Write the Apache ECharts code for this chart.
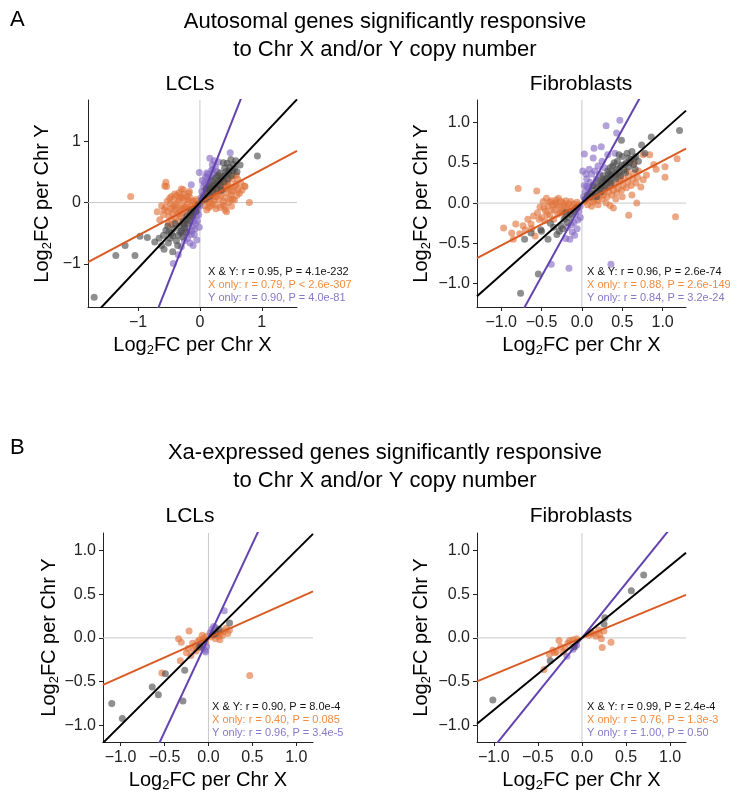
<!DOCTYPE html>
<html>
<head>
<meta charset="utf-8">
<script src="https://cdn.jsdelivr.net/npm/echarts@6/dist/echarts.min.js"></script>
<style>
  html, body { margin: 0; padding: 0; background: #fff; }
  #chart { width: 749px; height: 793px; }
</style>
</head>
<body>
<div id="chart"></div>
<script>
// ---------- Panel A, LCLs: autosomal genes (log2 fold change per Chr X, per Chr Y) ----------
const aLclXOnly = [
  [-1.12,0.10],[-0.55,0.33],[-0.54,0.26],[-0.57,0.27],[-0.30,0.22],[-0.27,0.21],[-0.18,0.15],[-0.31,0.10],
  [-0.46,0.10],[-0.69,-0.15],[-0.59,-0.20],[-0.65,-0.28],[-0.51,-0.34],[-0.62,-0.05],[-0.48,-0.02],[-0.42,0.05],
  [-0.38,-0.08],[-0.35,0.02],[-0.33,-0.15],[-0.29,-0.05],[-0.26,-0.12],[-0.24,0.04],[-0.22,-0.20],[-0.20,-0.02],
  [-0.18,-0.10],[-0.16,0.08],[-0.14,-0.06],[-0.12,0.02],[-0.10,-0.14],[-0.08,-0.03],[-0.06,0.05],[-0.05,-0.09],
  [-0.44,-0.18],[-0.40,-0.25],[-0.36,-0.30],[-0.47,-0.10],[-0.52,-0.14],[-0.56,-0.08],[-0.41,0.14],[-0.37,0.12],
  [-0.28,0.08],[-0.23,-0.28],[-0.30,-0.24],[-0.45,-0.36],[-0.34,0.16],[-0.21,0.10],[-0.11,-0.22],[-0.15,-0.16],
  [-0.39,-0.04],[-0.27,-0.34],[-0.53,0.02],[-0.17,0.18],[-0.03,-0.02],[-0.32,-0.19],[-0.25,-0.07],[-0.43,-0.06],
  [-0.50,-0.22],[-0.46,-0.28],[-0.41,-0.12],[-0.36,-0.18],[-0.33,0.06],[-0.30,-0.10],[-0.26,0.14],[-0.23,-0.08],
  [-0.19,0.04],[-0.14,-0.20],[-0.09,0.02],[-0.07,-0.12],[-0.58,-0.12],[-0.49,0.07],
  [0.59,0.45],[0.73,0.26],[0.72,0.27],[0.80,0.00],[0.64,0.15],[0.43,-0.15],[0.05,0.02],[0.08,-0.05],
  [0.10,0.10],[0.12,0.03],[0.14,-0.08],[0.16,0.16],[0.18,0.06],[0.20,-0.02],[0.22,0.22],[0.24,0.10],
  [0.26,-0.10],[0.28,0.18],[0.30,0.05],[0.32,0.28],[0.34,0.12],[0.36,-0.04],[0.38,0.22],[0.40,0.08],
  [0.42,0.34],[0.44,0.16],[0.46,0.00],[0.48,0.26],[0.50,0.12],[0.52,0.38],[0.54,0.20],[0.56,0.04],
  [0.58,0.30],[0.60,0.12],[0.62,0.22],[0.35,0.35],[0.27,0.32],[0.19,0.27],[0.13,0.22],[0.09,0.15],
  [0.25,-0.04],[0.33,-0.08],[0.41,-0.12],[0.47,0.40],[0.55,0.44],[0.37,0.42],[0.29,0.24],[0.21,0.12],
  [0.15,0.00],[0.11,-0.12],[0.31,0.16],[0.39,0.30],[0.45,0.22],[0.53,0.06],[0.66,0.32],[0.51,-0.06],
  [0.07,0.08],[0.17,-0.06],[0.23,0.04],[0.27,0.10],[0.34,0.20],[0.38,0.02],[0.43,0.26],[0.49,0.06],
  [0.52,0.18],[0.57,0.26],[0.45,0.30],[0.30,0.28],[0.20,0.20],[0.40,-0.06],[0.61,0.38],[0.68,0.20]
];
const aLclYOnly = [
  [0.16,0.72],[0.49,0.81],[-0.01,0.49],[-0.14,0.29],[0.19,0.53],[0.25,0.58],[0.22,0.46],[0.12,0.40],
  [0.10,0.30],[0.08,0.20],[0.05,0.12],[0.14,0.34],[0.18,0.42],[0.06,0.26],[0.03,0.18],[0.20,0.62],
  [0.28,0.50],[0.11,0.48],[0.15,0.22],[0.04,0.36],[0.02,0.08],[0.09,0.42],[0.23,0.68],[0.30,0.66],
  [0.07,0.32],[0.13,0.46],[0.17,0.36],[0.21,0.54],
  [-0.22,-0.28],[-0.08,-0.43],[-0.05,-0.61],[-0.43,-0.99],[-0.16,-0.66],[-0.12,-0.38],[-0.06,-0.22],[-0.03,-0.12],
  [-0.10,-0.30],[-0.18,-0.48],[-0.20,-0.58],[-0.25,-0.62],[-0.14,-0.52],[-0.04,-0.30],[-0.02,-0.20],[-0.30,-0.72],
  [-0.08,-0.16],[-0.24,-0.42],[-0.28,-0.50],[-0.11,-0.70],[-0.35,-0.85],[0.00,-0.05],[-0.01,-0.40],
  [-0.07,-0.34],[-0.13,-0.46],[-0.09,-0.52]
];
const aLclBoth = [
  [-1.71,-1.54],[-1.36,-0.86],[-1.21,-0.70],[-1.05,-0.86],[-0.97,-0.55],[-0.85,-0.57],[-0.73,-0.64],[-0.59,-0.53],
  [-0.44,-0.80],[-0.51,-0.66],[-0.35,-0.53],[-0.62,-0.70],[-0.55,-0.45],[-0.48,-0.58],[-0.42,-0.42],[-0.38,-0.62],
  [-0.33,-0.38],[-0.30,-0.46],[-0.27,-0.30],[-0.24,-0.40],[-0.21,-0.22],[-0.18,-0.30],[-0.15,-0.16],[-0.12,-0.22],
  [-0.09,-0.10],[-0.06,-0.14],[-0.03,-0.04],[-0.46,-0.50],[-0.40,-0.34],[-0.28,-0.56],[-0.52,-0.38],[-0.36,-0.70],
  [-0.22,-0.48],[-0.66,-0.58],[-0.58,-0.76],[-0.32,-0.48],[-0.26,-0.36],[-0.20,-0.34],[-0.16,-0.24],[-0.11,-0.16],
  [-0.44,-0.54],[-0.50,-0.48],
  [0.93,0.76],[0.56,0.55],[0.38,0.65],[0.65,0.61],[0.46,0.48],
  [0.03,0.04],[0.06,0.10],[0.09,0.06],[0.12,0.16],[0.15,0.10],[0.18,0.24],[0.21,0.18],[0.24,0.30],
  [0.27,0.22],[0.30,0.36],[0.33,0.28],[0.36,0.42],[0.39,0.34],[0.42,0.50],[0.45,0.38],[0.48,0.58],
  [0.51,0.44],[0.54,0.62],[0.20,0.36],[0.26,0.40],[0.32,0.48],[0.14,0.26],[0.60,0.50],[0.58,0.68],
  [0.40,0.56],[0.10,0.22],[0.35,0.20],[0.44,0.64],[0.50,0.70],[0.22,0.26],[0.28,0.30],[0.34,0.38],
  [0.16,0.20],[0.41,0.44],[0.47,0.52],[0.53,0.52],[0.29,0.44]
];

// ---------- Panel A, Fibroblasts ----------
const aFibXOnly = [
  [-0.79,0.18],[-0.56,0.15],[-0.97,-0.31],[-0.87,-0.37],[-0.82,-0.26],[-0.73,-0.28],[-0.67,-0.20],[-0.85,-0.45],
  [-0.58,-0.41],[-0.38,0.03],[-0.52,-0.05],[-0.48,0.02],[-0.45,-0.10],[-0.42,-0.04],[-0.40,-0.15],[-0.36,-0.02],
  [-0.34,-0.09],[-0.32,0.04],[-0.30,-0.14],[-0.28,-0.05],[-0.26,0.02],[-0.24,-0.11],[-0.22,-0.03],[-0.20,0.03],
  [-0.18,-0.08],[-0.16,-0.01],[-0.14,0.02],[-0.12,-0.05],[-0.10,-0.01],[-0.08,-0.06],[-0.06,0.01],[-0.04,-0.02],
  [-0.50,-0.18],[-0.46,-0.22],[-0.55,-0.12],[-0.60,-0.16],[-0.63,-0.26],[-0.44,0.06],[-0.29,0.06],[-0.21,-0.15],
  [-0.35,-0.20],[-0.70,-0.33],[-0.77,-0.38],[-0.62,-0.32],[-0.40,0.01],[-0.25,-0.08],
  [-0.47,-0.06],[-0.43,-0.14],[-0.37,-0.08],[-0.31,-0.02],[-0.27,-0.12],[-0.23,0.00],[-0.19,-0.05],[-0.15,-0.10],
  [-0.33,0.00],[-0.53,-0.20],
  [0.84,0.60],[1.03,0.45],[1.03,0.32],[1.16,-0.17],[0.68,0.00],[0.58,-0.15],[0.39,-0.06],[0.76,0.29],
  [1.18,0.55],[0.89,0.48],[0.76,0.60],[0.04,0.02],[0.07,-0.02],[0.10,0.06],[0.13,0.01],[0.16,0.09],
  [0.19,0.03],[0.22,0.12],[0.25,0.05],[0.28,0.15],[0.31,0.08],[0.34,0.19],[0.37,0.10],[0.40,0.22],
  [0.43,0.13],[0.46,0.26],[0.49,0.16],[0.52,0.30],[0.55,0.19],[0.58,0.33],[0.61,0.22],[0.64,0.37],
  [0.67,0.25],[0.70,0.40],[0.73,0.20],[0.12,-0.04],[0.20,-0.02],[0.30,0.00],[0.42,0.05],[0.50,0.08],
  [0.56,0.40],[0.62,0.10],[0.80,0.35],[0.35,-0.03],[0.46,0.35],[0.25,0.22],[0.92,0.42],[0.65,0.50],
  [0.15,0.04],[0.21,0.08],[0.27,0.10],[0.33,0.14],[0.39,0.16],[0.45,0.18],[0.51,0.22],[0.57,0.26],
  [0.63,0.30],[0.69,0.32],[0.48,0.28],[0.36,0.24]
];
const aFibYOnly = [
  [0.47,1.03],[0.30,0.96],[0.03,0.61],[0.15,0.68],[0.14,0.56],[0.43,0.87],[0.41,0.62],[0.06,0.21],
  [0.36,-0.76],[-0.16,-0.81],[-0.38,-0.76],[-0.15,-0.45],[-0.13,-0.27],[-0.05,-0.21],[0.02,0.08],[0.04,0.14],
  [0.06,0.30],[0.08,0.18],[0.10,0.26],[0.12,0.36],[0.14,0.22],[0.16,0.40],[0.18,0.30],[0.20,0.46],
  [0.22,0.36],[0.09,0.42],[0.05,0.36],[0.25,0.52],[0.28,0.44],[0.11,0.12],[0.03,0.22],[0.32,0.60],
  [0.24,0.70],[-0.02,-0.04],[-0.04,-0.10],[-0.08,-0.14],[-0.10,-0.24],[-0.06,-0.32],[-0.12,-0.36],[-0.18,-0.30],
  [-0.09,-0.40],[-0.20,-0.44],[-0.02,-0.18],[0.01,0.40]
];
const aFibBoth = [
  [1.21,0.90],[0.86,0.82],[0.74,0.72],[0.49,0.78],[-0.76,-1.12],[-0.54,-0.88],[-0.71,-0.45],[-0.63,-0.37],
  [-0.50,-0.35],[-0.42,-0.45],[-0.31,-0.39],[-0.51,-0.33],[-0.26,-0.28],[-0.22,-0.20],[-0.18,-0.24],[-0.14,-0.14],
  [-0.10,-0.10],[-0.06,-0.06],[-0.35,-0.30],[-0.28,-0.35],[-0.20,-0.12],[-0.39,-0.25],[-0.24,-0.32],[-0.16,-0.18],
  [0.04,0.05],[0.07,0.10],[0.10,0.08],[0.13,0.15],[0.16,0.12],[0.19,0.20],[0.22,0.17],[0.25,0.26],
  [0.28,0.22],[0.31,0.31],[0.34,0.27],[0.37,0.36],[0.40,0.32],[0.43,0.42],[0.46,0.37],[0.49,0.47],
  [0.52,0.41],[0.55,0.50],[0.58,0.45],[0.61,0.54],[0.64,0.48],[0.67,0.58],[0.70,0.52],[0.20,0.28],
  [0.26,0.34],[0.32,0.40],[0.38,0.46],[0.44,0.52],[0.50,0.58],[0.56,0.62],[0.30,0.20],[0.36,0.25],
  [0.42,0.30],[0.48,0.34],[0.54,0.38],[0.14,0.22],[0.18,0.08],[0.62,0.64],[0.78,0.62],[0.46,0.60],
  [0.40,0.50],[0.35,0.44],[0.58,0.56],[0.66,0.42],[0.24,0.14],[0.23,0.22],[0.29,0.28],[0.35,0.34],
  [0.41,0.38],[0.47,0.44],[0.53,0.48],[0.59,0.50],[0.65,0.56],[0.33,0.36],[0.27,0.30]
];

// ---------- Panel B, LCLs: Xa-expressed genes ----------
const bLclXOnly = [
  [-0.22,0.08],[-0.34,-0.01],[-0.31,-0.05],[-0.23,-0.12],[-0.32,-0.26],[-0.53,-0.40],[0.47,-0.43],[0.20,0.11],
  [0.22,0.05],[-0.18,-0.06],[-0.15,-0.09],[-0.12,-0.04],[-0.10,-0.02],[-0.08,-0.07],[-0.06,-0.03],[-0.05,0.00],
  [-0.03,-0.05],[-0.14,-0.15],[-0.20,-0.20],[-0.17,-0.13],[0.03,0.01],[0.06,0.03],[0.08,-0.01],[0.10,0.04],
  [0.12,0.02],[0.14,0.06],[0.16,0.03],[0.18,0.08],[0.09,0.07],[-0.07,0.03],[-0.25,-0.17],[-0.11,-0.11],
  [0.13,-0.02],[0.24,0.09],[-0.02,0.02]
];
const bLclYOnly = [
  [0.18,0.31],[0.06,0.13],[-0.03,-0.16],[-0.08,-0.08],[0.04,0.10],[-0.02,-0.10],[-0.04,-0.14],[0.02,0.06],
  [0.08,0.12],[-0.06,-0.12]
];
const bLclBoth = [
  [-1.10,-0.75],[-0.98,-0.92],[-0.64,-0.56],[-0.57,-0.65],[-0.49,-0.41],[-0.29,-0.72],[-0.27,-0.37],[0.24,0.17],
  [-0.10,-0.10],[0.05,0.04],[0.12,0.10],[0.08,0.05]
];

// ---------- Panel B, Fibroblasts ----------
const bFibXOnly = [
  [-0.26,-0.03],[-0.14,-0.03],[-0.10,-0.02],[-0.37,-0.19],[-0.29,-0.16],[-0.19,-0.12],[-0.43,-0.36],[0.22,-0.01],
  [0.23,-0.11],[0.33,-0.05],[0.13,0.05],[0.19,0.09],[0.25,0.08],[-0.31,-0.17],[-0.21,-0.16],[-0.24,-0.10],
  [-0.16,-0.06],[-0.06,-0.01],[0.16,0.02],[0.08,0.03],[0.10,0.06],[-0.33,-0.14],[0.20,0.04]
];
const bFibYOnly = [[-0.17,-0.21],[-0.08,-0.10],[-0.06,-0.08],[-0.10,-0.13]];
const bFibBoth = [
  [-1.01,-0.71],[0.70,0.72],[0.56,0.54],[0.26,0.23],[0.25,0.16],[-0.36,-0.26],[-0.09,-0.10]
];

// Fitted slopes through the origin: [X & Y, X only, Y only]
const aLclSlopes = [1.07, 0.535, 2.55];
const aFibSlopes = [0.89, 0.525, 1.82];
const bLclSlopes = [1.00, 0.447, 2.15];
const bFibSlopes = [0.825, 0.417, 1.25];

// Correlation statistics
const aLclStats = ['X & Y: r = 0.95, P = 4.1e-232', 'X only: r = 0.79, P < 2.6e-307', 'Y only: r = 0.90, P = 4.0e-81'];
const aFibStats = ['X & Y: r = 0.96, P = 2.6e-74', 'X only: r = 0.88, P = 2.6e-149', 'Y only: r = 0.84, P = 3.2e-24'];
const bLclStats = ['X & Y: r = 0.90, P = 8.0e-4', 'X only: r = 0.40, P = 0.085', 'Y only: r = 0.96, P = 3.4e-5'];
const bFibStats = ['X & Y: r = 0.99, P = 2.4e-4', 'X only: r = 0.76, P = 1.3e-3', 'Y only: r = 1.00, P = 0.50'];

// Axis limits and tick values
const aLclXRange = [-1.81, 1.57];
const aLclYRange = [-1.70, 1.67];
const aFibXRange = [-1.30, 1.29];
const aFibYRange = [-1.29, 1.28];
const bLclXRange = [-1.20, 1.19];
const bLclYRange = [-1.19, 1.20];
const bFibXRange = [-1.19, 1.18];
const bFibYRange = [-1.19, 1.20];
const unitTicks = [-1, 0, 1];
const halfTicks = [-1, -0.5, 0, 0.5, 1];

// Headings
const sectionLetters = ['A', 'B'];
const sectionTitles = [
  ['Autosomal genes significantly responsive', 'to Chr X and/or Y copy number'],
  ['Xa-expressed genes significantly responsive', 'to Chr X and/or Y copy number']
];
const cellTypes = ['LCLs', 'Fibroblasts'];

const FONT = '"Liberation Sans", Arial, Helvetica, sans-serif';
const COL_X = '#E0733A';
const COL_Y = '#8467C4';
const COL_XY = '#4a4a4a';
const LINE_X = '#D95A22';
const LINE_Y = '#6443AE';
const TXT_X = '#F08C40';
const TXT_Y = '#8878C8';

const panels = [
  { grid: { left: 88, top: 100, width: 209, height: 207 }, xr: aLclXRange, yr: aLclYRange, ticks: unitTicks, dec: 0,
    xo: aLclXOnly, yo: aLclYOnly, xy: aLclBoth, slopes: aLclSlopes, stats: aLclStats, statPos: [208, 272], yGap: 34 },
  { grid: { left: 477, top: 100, width: 209, height: 207 }, xr: aFibXRange, yr: aFibYRange, ticks: halfTicks, dec: 1,
    xo: aFibXOnly, yo: aFibYOnly, xy: aFibBoth, slopes: aFibSlopes, stats: aFibStats, statPos: [587, 272], yGap: 44 },
  { grid: { left: 103, top: 533, width: 210, height: 209 }, xr: bLclXRange, yr: bLclYRange, ticks: halfTicks, dec: 1,
    xo: bLclXOnly, yo: bLclYOnly, xy: bLclBoth, slopes: bLclSlopes, stats: bLclStats, statPos: [212, 707], yGap: 42 },
  { grid: { left: 477, top: 533, width: 209, height: 209 }, xr: bFibXRange, yr: bFibYRange, ticks: halfTicks, dec: 1,
    xo: bFibXOnly, yo: bFibYOnly, xy: bFibBoth, slopes: bFibSlopes, stats: bFibStats, statPos: [587, 707], yGap: 44 }
];

function fmt(dec) {
  return v => (v < 0 ? '\u2212' : '') + Math.abs(v).toFixed(dec);
}

const nameRich = {
  t: { fontSize: 20, fontFamily: FONT, color: '#000' },
  s: { fontSize: 13, fontFamily: FONT, color: '#000', padding: [10, 0, 0, 0] }
};

function axis(gi, range, ticks, dec, label, gap, labelMargin) {
  return {
    type: 'value', gridIndex: gi, min: range[0], max: range[1],
    name: '{t|Log}{s|2}{t|FC per Chr ' + label + '}',
    nameLocation: 'middle', nameGap: gap,
    nameTextStyle: { rich: nameRich },
    axisLine: { show: true, onZero: false, lineStyle: { color: '#222', width: 1 } },
    axisTick: { show: true, length: 4, customValues: ticks, lineStyle: { color: '#222' } },
    axisLabel: { customValues: ticks, formatter: fmt(dec), fontSize: 16, fontFamily: FONT, color: '#222', margin: labelMargin },
    splitLine: { show: false }
  };
}

const grids = [], xAxes = [], yAxes = [], series = [], graphics = [];

panels.forEach((p, i) => {
  grids.push(p.grid);
  xAxes.push(axis(i, p.xr, p.ticks, p.dec, 'X', 27, 8));
  yAxes.push(axis(i, p.yr, p.ticks, p.dec, 'Y', p.yGap, 7));

  // zero reference lines
  series.push({ type: 'line', xAxisIndex: i, yAxisIndex: i, data: [[p.xr[0], 0], [p.xr[1], 0]],
    symbol: 'none', silent: true, z: 1, lineStyle: { color: '#c9c9c9', width: 1 } });
  series.push({ type: 'line', xAxisIndex: i, yAxisIndex: i, data: [[0, p.yr[0]], [0, p.yr[1]]],
    symbol: 'none', silent: true, z: 1, lineStyle: { color: '#c9c9c9', width: 1 } });

  const pts = (data, color) => ({
    type: 'scatter', xAxisIndex: i, yAxisIndex: i, data, symbolSize: 7, z: 2,
    itemStyle: { color, opacity: 0.62 }
  });
  series.push(pts(p.xo, COL_X));
  series.push(pts(p.yo, COL_Y));
  series.push(pts(p.xy, COL_XY));

  const fit = (m, color) => ({
    type: 'line', xAxisIndex: i, yAxisIndex: i, clip: true, symbol: 'none', silent: true, z: 3,
    data: [[p.xr[0], m * p.xr[0]], [p.xr[1], m * p.xr[1]]],
    lineStyle: { color, width: 2 }
  });
  series.push(fit(p.slopes[1], LINE_X));
  series.push(fit(p.slopes[2], LINE_Y));
  series.push(fit(p.slopes[0], '#000'));

  const cols = ['#111', TXT_X, TXT_Y];
  p.stats.forEach((s, k) => {
    graphics.push({ type: 'text', x: p.statPos[0], y: p.statPos[1] + k * 13, z: 10,
      style: { text: s, fill: cols[k], fontSize: 11, fontFamily: FONT, verticalAlign: 'middle', align: 'left' } });
  });
});

// section headings: [letter y, title line 1 y, title line 2 y, cell type y]
const sectionY = [[20, 22, 50, 84], [448, 453, 481, 516]];
sectionLetters.forEach((L, s) => {
  graphics.push({ type: 'text', x: 10, y: sectionY[s][0], style: { text: L, fontSize: 22, fontFamily: FONT, fill: '#000', verticalAlign: 'middle' } });
  sectionTitles[s].forEach((t, k) => {
    graphics.push({ type: 'text', x: 385, y: sectionY[s][1 + k], style: { text: t, fontSize: 22, fontFamily: FONT, fill: '#000', align: 'center', verticalAlign: 'middle' } });
  });
  cellTypes.forEach((c, k) => {
    graphics.push({ type: 'text', x: k === 0 ? 190 : 581, y: sectionY[s][3], style: { text: c, fontSize: 21, fontFamily: FONT, fill: '#000', align: 'center', verticalAlign: 'middle' } });
  });
});

const chart = echarts.init(document.getElementById('chart'), null, { renderer: 'canvas' });
chart.setOption({
  animation: false,
  backgroundColor: '#fff',
  grid: grids, xAxis: xAxes, yAxis: yAxes, series, graphic: graphics
});
</script>
</body>
</html>
